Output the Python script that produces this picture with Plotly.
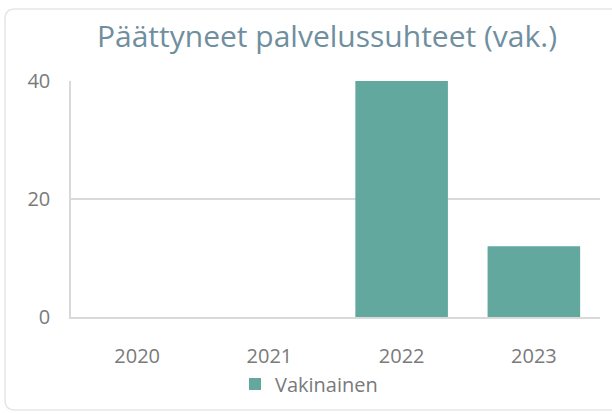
import plotly.graph_objects as go

years = ["2020", "2021", "2022", "2023"]
vakinainen = [0, 0, 40, 12]
series_name = "Vakinainen"
title_text = "Päättyneet palvelussuhteet (vak.)"

W, H = 612, 414
L, R, T, B = 71, 12, 81, 97
pw, ph = W - L - R, H - T - B

def px(x):
    return (x - L) / pw

def py(y):
    return (H - B - y) / ph

# rounded card border path in paper coords
x0, x1, y0, y1, r = 5, 640, 9, 410, 10
rx, ry = r / pw, r / ph
path = (
    f"M {px(x0)+rx},{py(y0)} L {px(x1)},{py(y0)} "
    f"L {px(x1)},{py(y1)} L {px(x0)+rx},{py(y1)} "
    f"Q {px(x0)},{py(y1)} {px(x0)},{py(y1)+ry} "
    f"L {px(x0)},{py(y0)-ry} Q {px(x0)},{py(y0)} {px(x0)+rx},{py(y0)} Z"
)

FONT = "Open Sans, Segoe UI, sans-serif"
TXT = "#7a7a7a"
GRID = "#d9d9d9"

fig = go.Figure()
fig.add_trace(go.Bar(x=years, y=vakinainen, name=series_name,
                     marker=dict(color="#62a89e", line=dict(width=0)),
                     showlegend=True))

fig.update_layout(
    width=W, height=H,
    margin=dict(l=L, r=R, t=T, b=B, autoexpand=False),
    paper_bgcolor="white", plot_bgcolor="white",
    font=dict(family=FONT, color=TXT, size=20),
    title=dict(text=title_text, x=px(327), xref="paper", xanchor="center",
               y=1 - 36 / H, yanchor="middle",
               font=dict(size=30, color="#6f8fa0", family=FONT)),
    bargap=0.3,
    showlegend=True,
    legend=dict(orientation="h", x=px(309), xanchor="center", y=py(384), yanchor="middle",
                font=dict(size=20, color=TXT, family=FONT), itemwidth=30),
    xaxis=dict(showgrid=False, showline=True, linecolor=GRID, linewidth=1.5, ticks="",
               ticklabelstandoff=20, tickfont=dict(size=20, color=TXT, family=FONT)),
    yaxis=dict(range=[0, 40], tickvals=[0, 20, 40], showgrid=True, gridcolor=GRID,
               gridwidth=1.5, zeroline=False, showline=True, linecolor=GRID, linewidth=1.5,
               ticks="", ticklabelstandoff=15, tickfont=dict(size=20, color=TXT, family=FONT)),
    shapes=[dict(type="path", path=path, xref="paper", yref="paper",
                 line=dict(color="#e6e6e6", width=1.5), fillcolor="rgba(0,0,0,0)", layer="below")],
)

fig.write_html("out.html", config={"displayModeBar": False},
               post_script="document.body.style.margin='0';")
